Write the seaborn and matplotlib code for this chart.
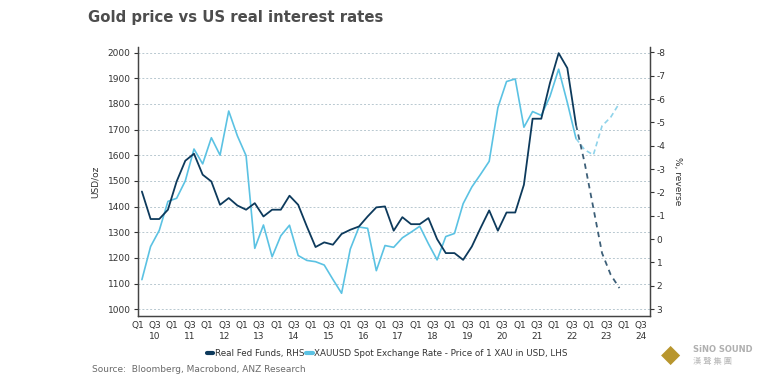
import numpy as np
import pandas as pd
import matplotlib.pyplot as plt
import seaborn as sns
from matplotlib.lines import Line2D

# Quarterly values, Q1 2010 - Q3 2022 (solid), then forecast Q3 2022 - Q4 2023 (dashed)
gold = [1115, 1244, 1307, 1420,
        1432, 1500, 1624, 1566,
        1668, 1600, 1772, 1675,
        1598, 1237, 1328, 1204,
        1286, 1327, 1209, 1190,
        1185, 1172, 1116, 1062,
        1234, 1320, 1315, 1150,
        1248, 1241, 1278, 1300,
        1323, 1255, 1192, 1283,
        1295, 1411, 1476, 1525,
        1576, 1785, 1887, 1897,
        1709, 1770, 1755, 1829,
        1935, 1805, 1665]
gold_fc = [1665, 1621, 1601, 1714, 1748, 1803]

fed = [-2.04, -0.86, -0.86, -1.26,
       -2.47, -3.36, -3.66, -2.76,
       -2.47, -1.47, -1.76, -1.44,
       -1.26, -1.54, -0.97, -1.26,
       -1.26, -1.86, -1.47, -0.54,
       0.34, 0.14, 0.24, -0.22,
       -0.40, -0.54, -0.97, -1.36,
       -1.40, -0.36, -0.94, -0.64,
       -0.64, -0.90, 0.00, 0.60,
       0.60, 0.89, 0.32, -0.47,
       -1.23, -0.36, -1.14, -1.14,
       -2.33, -5.16, -5.16, -6.69,
       -7.97, -7.33, -4.90]
fed_fc = [-4.90, -3.26, -1.33, 0.60, 1.53, 2.10]

left_ticks = [1000, 1100, 1200, 1300, 1400, 1500, 1600, 1700, 1800, 1900, 2000]
right_ticks = [-8, -7, -6, -5, -4, -3, -2, -1, 0, 1, 2, 3]
years = list(range(2010, 2025))

sns.set_style('white')
plt.rcParams['font.family'] = ['DejaVu Sans']
plt.rcParams['axes.unicode_minus'] = False

DARK = '#0d3a5c'
LIGHT = '#5bc2e3'
TXT = '#333333'

quarters = pd.period_range('2010Q1', '2023Q4', freq='Q')
qpos = np.asarray((quarters.year - 2010) * 4 + quarters.quarter - 1) + 0.5
hist = pd.DataFrame({'x': qpos[:len(gold)], 'gold': gold, 'fed': fed})
fc = pd.DataFrame({'x': qpos[len(gold) - 1:], 'gold': gold_fc, 'fed': fed_fc})

fig = plt.figure(figsize=(7.6, 3.81), dpi=100)
ax = fig.add_axes([0.181, 0.171, 0.674, 0.706])
ax2 = ax.twinx()

sns.lineplot(data=hist, x='x', y='gold', ax=ax, color=LIGHT, lw=1.2)
sns.lineplot(data=fc, x='x', y='gold', ax=ax, color='#8fd3ea', lw=1.2,
             linestyle=(0, (3, 2)))
sns.lineplot(data=hist, x='x', y='fed', ax=ax2, color=DARK, lw=1.3)
sns.lineplot(data=fc, x='x', y='fed', ax=ax2, color='#3d5f78', lw=1.3,
             linestyle=(0, (3, 2.5)))

ax.set_xlim(0, 59)
ax.set_ylim(974, 2022)
ax2.set_ylim(3.29, -8.24)

ax.set_yticks(left_ticks)
ax2.set_yticks(right_ticks)
ax2.set_yticklabels([str(t) for t in right_ticks])

xt, xl = [], []
for i, y in enumerate(years):
    xt += [i * 4, i * 4 + 2]
    xl += ['Q1', 'Q3\n%02d' % (y % 100)]
ax.set_xticks(xt)
ax.set_xticklabels(xl)

ax.yaxis.grid(True, color='#b8c8d0', ls=(0, (2, 2)), lw=0.7)
ax.xaxis.grid(False)
ax2.grid(False)

for a in (ax, ax2):
    a.spines['top'].set_visible(False)
    for s in ('left', 'right', 'bottom'):
        a.spines[s].set_color('#444444')
        a.spines[s].set_linewidth(0.9)
    a.tick_params(labelsize=6.5, colors=TXT, length=3, width=0.8)
ax.tick_params(axis='x', length=2, pad=2)
ax.tick_params(axis='y', left=True, pad=2)
ax2.tick_params(axis='y', right=True, pad=2)

ax.set_xlabel('')
ax.set_ylabel('USD/oz', fontsize=6.5, color=TXT, labelpad=6)
ax2.set_ylabel('%, reverse', fontsize=6.5, color=TXT, rotation=270, labelpad=12)

handles = [Line2D([], [], color=DARK, lw=3), Line2D([], [], color=LIGHT, lw=3)]
labels = ['Real Fed Funds, RHS', 'XAUUSD Spot Exchange Rate - Price of 1 XAU in USD, LHS']
fig.legend(handles, labels, loc='center', bbox_to_anchor=(0.51, 0.073), ncol=2,
           frameon=False, fontsize=6.3, handlelength=0.7, handletextpad=0.2,
           columnspacing=0.2, labelcolor=TXT)

fig.text(0.116, 0.953, 'Gold price vs US real interest rates', fontsize=10.7,
         fontweight='bold', color='#4d4d4d', va='center')
fig.text(0.121, 0.031, 'Source:  Bloomberg, Macrobond, ANZ Research',
         fontsize=6.5, color='#6a6a6a', va='center')

# watermark logo
fig.text(0.882, 0.068, '\u25c6', fontsize=18, color='#b8962e', ha='center', va='center')
fig.text(0.912, 0.083, 'SiNO SOUND', fontsize=6, color='#b0b0b0', fontweight='bold', va='center')
fig.text(0.912, 0.052, '漢 聲 集 團', fontsize=6, color='#b8b8b8', va='center',
         family=['Noto Sans CJK TC', 'DejaVu Sans'])

fig.savefig('out.png', dpi=100)
